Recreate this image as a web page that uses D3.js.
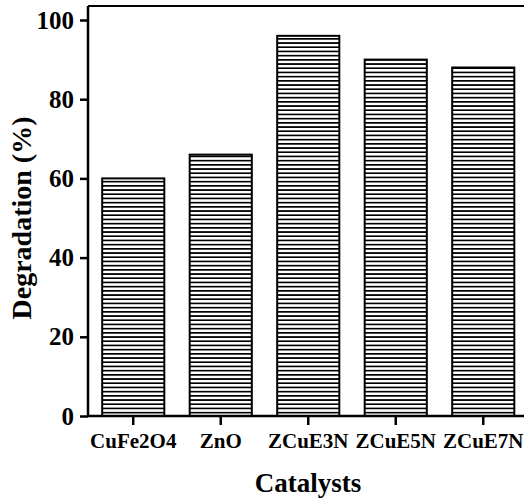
<!DOCTYPE html>
<meta charset="utf-8">
<html>
<head>
  <script src="https://d3js.org/d3.v7.min.js"></script>
  <style>
    body { margin: 0; background: #fff; }
    svg text { font-family: "Liberation Serif", "Times New Roman", serif; font-weight: bold; }
  </style>
</head>
<body>
  <svg width="524" height="498"></svg>
  <script>
    const catalysts = ["CuFe2O4", "ZnO", "ZCuE3N", "ZCuE5N", "ZCuE7N"];
    const degradation = [60, 66, 96, 90, 88];
    const yTicks = [0, 20, 40, 60, 80, 100];

    const plotLeft = 88, plotTop = 6, plotRight = 527, plotBottom = 416;
    const svg = d3.select("svg");

    const x = d3.scaleBand()
        .domain(catalysts)
        .range([89.5, 527])
        .paddingInner(0.29)
        .paddingOuter(0.145);

    const y = d3.scaleLinear()
        .domain([0, 100])
        .range([plotBottom, 20]);

    // horizontal hatch
    const pat = svg.append("defs").append("pattern")
        .attr("id", "hatch")
        .attr("patternUnits", "userSpaceOnUse")
        .attr("width", 10)
        .attr("height", 4.2)
        .attr("y", plotBottom);
    pat.append("rect").attr("width", 10).attr("height", 4.2).attr("fill", "#fff");
    pat.append("rect")
        .attr("width", 10).attr("height", 1.6)
        .attr("fill", "#000")
        .attr("shape-rendering", "crispEdges");

    // frame top
    svg.append("line")
        .attr("x1", plotLeft).attr("x2", plotRight)
        .attr("y1", plotTop).attr("y2", plotTop)
        .attr("stroke", "#000").attr("stroke-width", 2);

    svg.selectAll(".bar")
      .data(catalysts)
      .enter().append("rect")
        .attr("class", "bar")
        .attr("x", d => x(d))
        .attr("width", x.bandwidth())
        .attr("y", (d, i) => y(degradation[i]))
        .attr("height", (d, i) => plotBottom - y(degradation[i]))
        .attr("fill", "url(#hatch)")
        .attr("stroke", "#000")
        .attr("stroke-width", 2);

    const yAxis = svg.append("g")
        .attr("transform", `translate(${plotLeft},0)`)
        .call(d3.axisLeft(y).tickValues(yTicks).tickSize(8).tickPadding(6));
    yAxis.select(".domain").attr("d", `M0,${plotBottom}V${plotTop}`).attr("stroke-width", 2.5);
    yAxis.selectAll(".tick line").attr("stroke-width", 2.5);
    yAxis.selectAll(".tick text").attr("font-size", 25).attr("fill", "#000")
        .attr("font-family", "Liberation Serif").attr("font-weight", "bold");

    const xAxis = svg.append("g")
        .attr("transform", `translate(0,${plotBottom})`)
        .call(d3.axisBottom(x).tickSize(9).tickPadding(8));
    xAxis.select(".domain").attr("d", `M${plotLeft},0H${plotRight}`).attr("stroke-width", 2.5);
    xAxis.selectAll(".tick line").attr("stroke-width", 2.5);
    xAxis.selectAll(".tick text").attr("font-size", 21).attr("fill", "#000")
        .attr("font-family", "Liberation Serif").attr("font-weight", "bold");

    svg.append("text")
        .attr("x", 308)
        .attr("y", 492)
        .attr("text-anchor", "middle")
        .attr("font-size", 27)
        .text("Catalysts");

    svg.append("text")
        .attr("transform", "translate(31,218) rotate(-90)")
        .attr("text-anchor", "middle")
        .attr("font-size", 28)
        .text("Degradation (%)");
  </script>
</body>
</html>
